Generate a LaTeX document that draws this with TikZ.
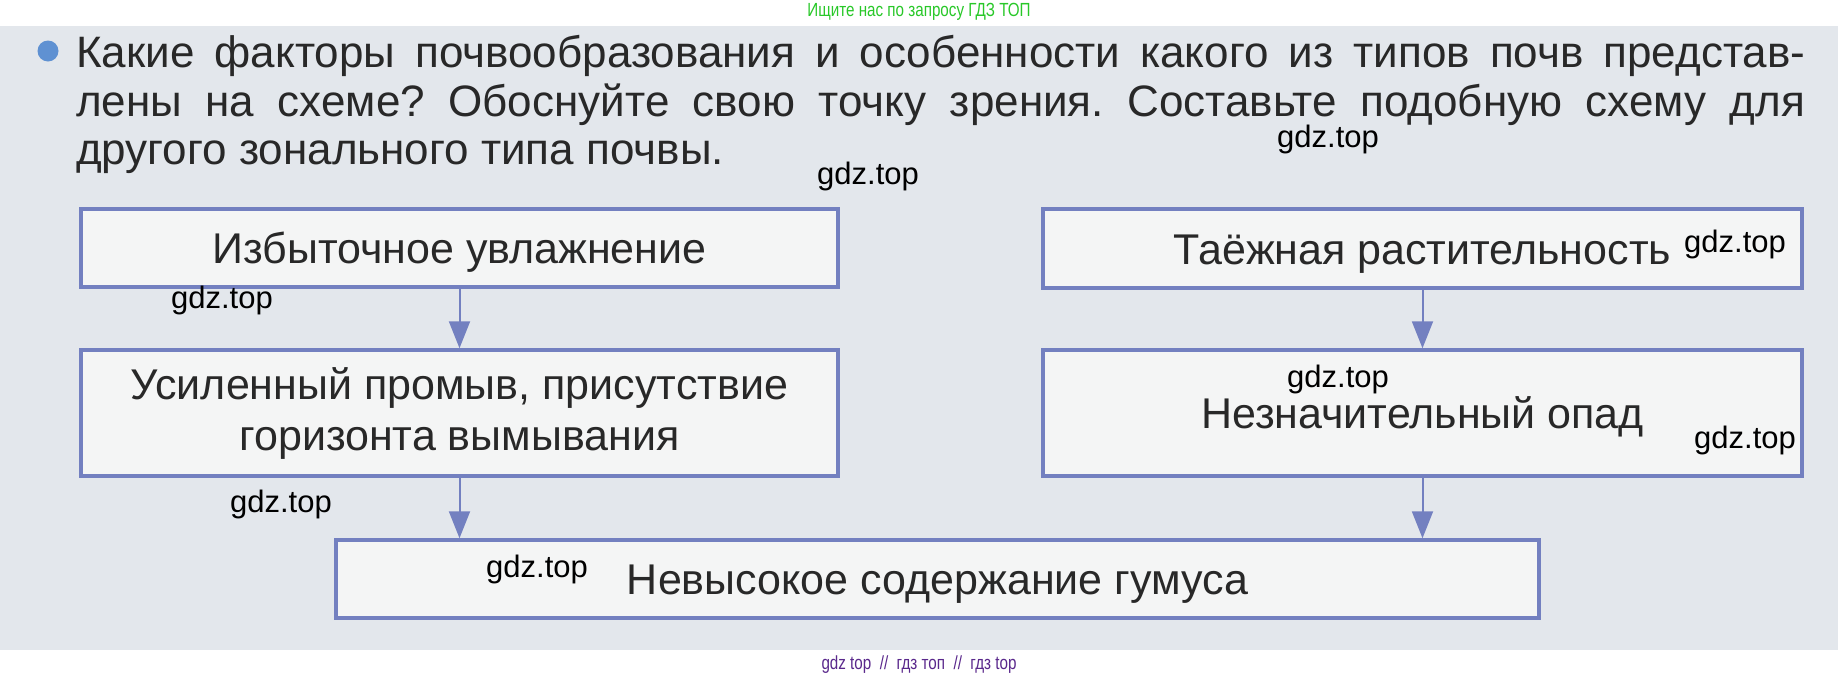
\documentclass[tikz,border=0pt]{standalone}
\usepackage{fontspec}
\setmainfont{Liberation Sans}
\newfontfamily\narrowfont[FakeStretch=0.8]{Liberation Sans}
\usetikzlibrary{arrows.meta}
\frenchspacing

\definecolor{pagebg}{RGB}{227,231,236}
\definecolor{boxfill}{RGB}{244,245,245}
\definecolor{boxline}{RGB}{115,128,192}
\definecolor{inktext}{RGB}{40,40,40}
\definecolor{dotblue}{RGB}{95,145,210}
\definecolor{adgreen}{RGB}{40,200,40}
\definecolor{adpurple}{RGB}{90,40,140}

\begin{document}
\begin{tikzpicture}[x=1pt,y=-1pt,
  factor/.style={draw=boxline,line width=3.5pt,fill=boxfill,inner sep=0pt,
    text=inktext,font=\fontsize{43}{51}\selectfont,align=center},
  oneline/.style={text height=31pt,text depth=0pt},
  link/.style={boxline,line width=2pt,-{Triangle[width=21pt,length=27pt]}},
  wm/.style={font=\fontsize{31}{31}\selectfont,text=black,inner sep=0pt},
  qline/.style={anchor=base west,inner sep=0pt,text=inktext,
    font=\fontsize{44}{49}\selectfont}]

%Page size and paper
\useasboundingbox (0,0) rectangle (1838,678);
\fill[white] (0,0) rectangle (1838,678);
\fill[pagebg] (0,26) rectangle (1838,650);

%Width of the justified question lines
\def\qw{1729pt}

% Question
\node[circle,fill=dotblue,minimum size=21pt,inner sep=0pt] (dot) at (48,51) {};
\node[qline] (q1) at (76,67) {\makebox[\qw][s]{Какие факторы почвообразования и особенности какого из типов почв представ-}};
\node[qline] (q2) at (76,116) {\makebox[\qw][s]{лены на схеме? Обоснуйте свою точку зрения. Составьте подобную схему для}};
\node[qline] (q3) at (76,164) {другого зонального типа почвы.};

% Factors
\node[factor,oneline,minimum width=757pt,minimum height=78pt] (wet) at (459.5,248) {Избыточное увлажнение};
\node[factor,minimum width=757pt,minimum height=126pt] (leach) at (459.5,413) {Усиленный промыв, присутствие\\горизонта вымывания};
\node[factor,oneline,minimum width=759pt,minimum height=79pt] (taiga) at (1422.5,248.5) {Таёжная растительность};
\node[factor,oneline,minimum width=759pt,minimum height=126pt] (litter) at (1422.5,413) {Незначительный опад};
\node[factor,oneline,minimum width=1203pt,minimum height=78pt] (humus) at (937.5,579) {Невысокое содержание гумуса};

% Arrows
\draw[link] (wet.south) -- (leach.north);
\draw[link] (taiga.south) -- (litter.north);
\draw[link] (leach.south) -- (leach.south |- humus.north);
\draw[link] (litter.south) -- (litter.south |- humus.north);

% Watermarks
\foreach \wx/\wy [count=\i] in {868/176,1328/139,1735/244,222/300,1338/379,1745/440,281/504,537/569}
  \node[wm] (wm\i) at (\wx,\wy) {gdz.top};

\node[text=adgreen,font=\narrowfont\fontsize{19}{19}\selectfont,inner sep=0pt] (adtop) at (919,12) {Ищите нас по запросу ГДЗ ТОП};
\node[text=adpurple,font=\narrowfont\fontsize{19}{19}\selectfont,inner sep=0pt] (adbot) at (919,665) {gdz top \ // \ гдз топ \ // \ гдз top};

\end{tikzpicture}
\end{document}
